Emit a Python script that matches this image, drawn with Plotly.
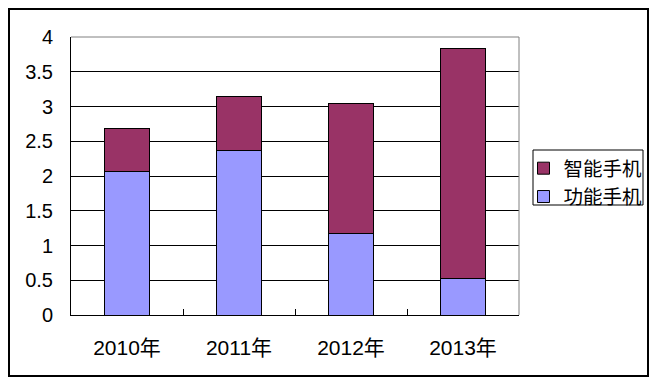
import plotly.graph_objects as go

years = ["2010年", "2011年", "2012年", "2013年"]
feature_phone = [2.07, 2.36, 1.17, 0.53]
smart_phone = [0.62, 0.79, 1.88, 3.30]
y_ticks = [0, 0.5, 1, 1.5, 2, 2.5, 3, 3.5, 4]
y_ticktext = ["0", "0.5", "1", "1.5", "2", "2.5", "3", "3.5", "4"]

W, H = 657, 384
OFF = 8  # page body margin
L, R, T, B = 71, 519, 37, 315
pw, ph = R - L, B - T
FW, FH = W - OFF, H - OFF

def px_x(v):
    return (v - L) / pw

def px_y(v):
    return (B - v) / ph

fig = go.Figure()
fig.add_trace(go.Bar(x=years, y=feature_phone, name="功能手机",
                     marker=dict(color="#9999FF", line=dict(color="black", width=1))))
fig.add_trace(go.Bar(x=years, y=smart_phone, name="智能手机",
                     marker=dict(color="#993366", line=dict(color="black", width=1))))

font = dict(family="Liberation Sans, Arial, Noto Sans CJK SC", size=20, color="black")

fig.update_layout(
    width=FW, height=FH,
    margin=dict(l=L - OFF, r=FW - (R - OFF), t=T - OFF, b=FH - (B - OFF), pad=0,
                autoexpand=False),
    barmode="stack", bargap=0.6,
    plot_bgcolor="white", paper_bgcolor="white",
    font=font,
    showlegend=True,
    legend=dict(traceorder="reversed", x=px_x(523.5), y=px_y(149), xanchor="left", yanchor="top",
                borderwidth=0, bgcolor="rgba(0,0,0,0)",
                font=dict(family="Noto Sans CJK SC, sans-serif", size=19.5, color="black"),
                itemwidth=30, tracegroupgap=0),
    xaxis=dict(type="category", showline=True, linecolor="black", linewidth=1,
               ticks="inside", tickson="boundaries", ticklen=6, tickcolor="black",
               showgrid=False, ticklabelstandoff=14,
               tickfont=dict(family="Liberation Sans, Noto Sans CJK SC", size=21, color="black")),
    yaxis=dict(range=[0, 4], tickvals=y_ticks, ticktext=y_ticktext,
               showline=True, linecolor="black", linewidth=1,
               ticks="inside", ticklen=6, tickcolor="black",
               showgrid=True, gridcolor="black", gridwidth=1,
               zeroline=False, ticklabelstandoff=13,
               tickfont=dict(family="Liberation Sans, Arial", size=20, color="black")),
    shapes=[
        dict(type="line", xref="paper", yref="paper", x0=0, x1=1, y0=1, y1=1,
             line=dict(color="#808080", width=1), layer="above"),
        dict(type="line", xref="paper", yref="paper", x0=1, x1=1, y0=0, y1=1,
             line=dict(color="#808080", width=1), layer="above"),
        # legend frame
        dict(type="rect", xref="paper", yref="paper",
             x0=px_x(533), x1=px_x(643), y0=px_y(205), y1=px_y(150),
             line=dict(color="black", width=1), layer="above"),
        # chart area frame
        dict(type="rect", xref="paper", yref="paper",
             x0=px_x(9), x1=px_x(648), y0=px_y(376), y1=px_y(9),
             line=dict(color="black", width=2), layer="above"),
    ],
)

fig.write_html("out.html")
